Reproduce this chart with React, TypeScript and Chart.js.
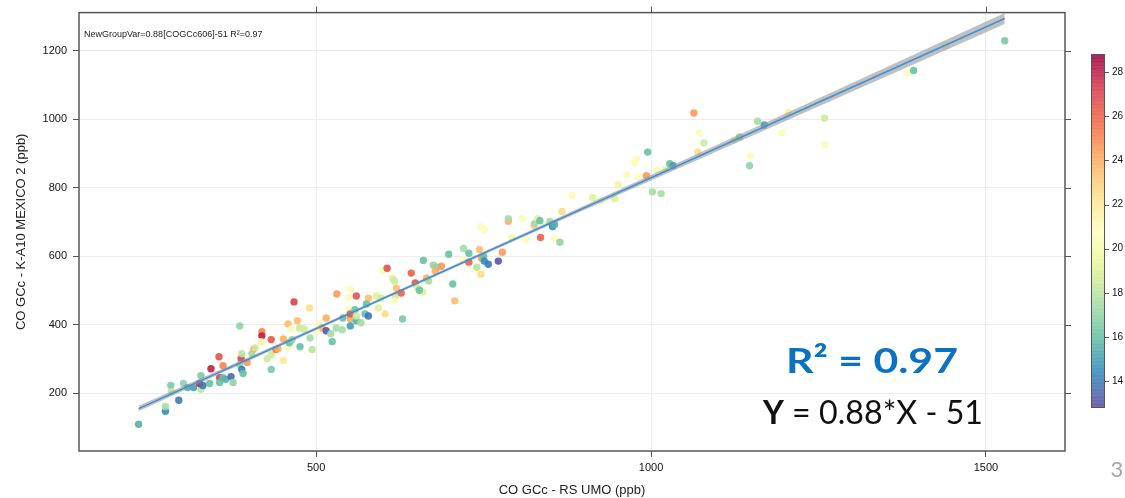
import { useEffect, useRef } from "react";
import { Chart, registerables } from "chart.js";

Chart.register(...registerables);

// CO (ppb) measured by the RS UMO reference analyser (x) and the K-A10 MEXICO 2 unit (y)
const rsUmo = [
  235, 275, 275, 295, 283, 284, 302, 308, 317, 328,
  326, 331, 328, 341, 343, 355, 361, 356, 356, 361,
  365, 373, 376, 386, 388, 389, 386, 389, 391, 397,
  404, 407, 409, 419, 419, 418, 433, 427, 433, 433,
  440, 443, 451, 458, 451, 460, 464, 467, 458, 463,
  472, 475, 482, 476, 491, 494, 490, 504, 515, 509,
  515, 500, 522, 524, 530, 539, 540, 549, 551, 551,
  558, 560, 551, 567, 560, 531, 548, 551, 560, 578,
  575, 573, 578, 593, 590, 597, 603, 599, 606, 614,
  617, 620, 618, 617, 627, 629, 642, 648, 651, 659,
  654, 665, 668, 660, 675, 681, 687, 678, 704, 707,
  698, 720, 728, 719, 728, 738, 740, 746, 744, 747,
  750, 751, 757, 772, 778, 746, 751, 787, 787, 792,
  808, 813, 825, 826, 831, 834, 835, 849, 853, 856,
  856, 864, 867, 882, 913, 925, 946, 951, 964, 981,
  993, 1002, 1015, 975, 1009, 1022, 1028, 1033, 1064, 1072,
  1079, 1070, 1124, 1132, 1159, 1169, 1148, 1147, 1195, 1205,
  1259, 1260, 1383, 1392, 1440, 1528, 995, 978,
];

const ka10Mexico = [
  110, 148, 162, 180, 223, 206, 229, 217, 217, 212,
  229, 223, 252, 229, 272, 307, 281, 246, 232, 246,
  241, 249, 232, 397, 301, 316, 284, 270, 258, 290,
  316, 330, 333, 380, 368, 351, 357, 301, 313, 270,
  328, 330, 359, 333, 296, 348, 357, 467, 403, 388,
  412, 391, 388, 336, 362, 328, 449, 403, 420, 391,
  383, 383, 374, 351, 391, 386, 420, 444, 417, 432,
  444, 412, 397, 406, 426, 490, 481, 504, 484, 478,
  461, 432, 426, 449, 484, 478, 432, 559, 565, 536,
  528, 507, 484, 470, 493, 417, 551, 522, 510, 496,
  501, 536, 528, 588, 574, 568, 571, 557, 519, 470,
  606, 623, 609, 591, 583, 565, 568, 548, 620, 594,
  600, 586, 577, 586, 612, 687, 678, 702, 710, 655,
  710, 649, 690, 696, 710, 704, 655, 702, 687, 693,
  652, 641, 731, 777, 771, 762, 768, 809, 838, 832,
  835, 788, 783, 873, 852, 855, 870, 864, 1018, 960,
  931, 904, 939, 948, 994, 983, 893, 864, 960, 1020,
  1003, 925, 1136, 1142, 1215, 1229, 904, 884,
];

// grouping variable used for the colour of each point
const groupVar = [
  15.5, 14.5, 17.5, 14, 16.5, 18, 17, 15.5, 15, 18,
  28, 14, 16.5, 16, 28, 26.5, 25, 27, 16, 16,
  15.5, 13.5, 17, 17, 27, 18, 17, 14, 16, 24.5,
  17.5, 24, 18.5, 25, 28, 21.5, 26.5, 18.5, 18.5, 16.5,
  25.5, 24, 24, 21, 22, 16, 17, 27, 23.5, 21,
  23.5, 18.5, 18.5, 16, 17.5, 18, 22.5, 21, 24, 24,
  13, 21, 17.5, 16, 17.5, 17.5, 16, 21, 24, 26.5,
  16, 15.5, 15, 17.5, 18.5, 24.5, 21, 20.5, 26.5, 23.5,
  16, 16, 14, 19, 19, 18.5, 22.5, 20.5, 26.5, 19,
  18.5, 23.5, 18.5, 21, 26, 16.5, 26, 26.5, 19, 19,
  16, 24, 17.5, 16, 17, 17, 24.5, 24, 16, 23.5,
  16, 17.5, 16, 21, 26, 21, 18, 22.5, 23.5, 24.5,
  16, 14.5, 14, 13, 24.5, 20.5, 20.5, 24, 17.5, 20,
  20.5, 20.5, 23, 17.5, 19, 16, 26, 17.5, 14.5, 15.5,
  21, 17, 22.5, 20.5, 19, 20, 19, 19.5, 20.5, 20.5,
  24.5, 17.5, 17.5, 20.5, 20.5, 19.5, 16, 15, 24.5, 20.5,
  18.5, 22.5, 19, 17, 17.5, 15, 20.5, 17, 20.5, 19.5,
  18.5, 20.5, 20.5, 16, 19.5, 16.5, 16, 20.5,
];

const xTicks = [500, 1000, 1500];
const yTicks = [200, 400, 600, 800, 1000, 1200];
const colorTicks = [14, 16, 18, 20, 22, 24, 26, 28];
const colorMin = 12.8;
const colorMax = 28.8;

// linear fit and its confidence band
const fitSlope = 0.88;
const fitIntercept = -51;
const fitFrom = 235;
const fitTo = 1528;
const bandX = [235, 400, 600, 800, 1000, 1200, 1400, 1528];
const bandHalf = [8, 5, 4, 5, 8, 11, 14, 16];

const spectral = [
  "#5E4FA2", "#3288BD", "#66C2A5", "#ABDDA4", "#E6F598", "#FFFFBF",
  "#FEE08B", "#FDAE61", "#F46D43", "#D53E4F", "#9E0142",
];

const AXIS_FONT = '"Liberation Sans", Arial, Helvetica, sans-serif';
const SLIDE_FONT = 'Lato, "Open Sans", sans-serif';

function hexRgb(h: string): number[] {
  const n = parseInt(h.slice(1), 16);
  return [(n >> 16) & 255, (n >> 8) & 255, n & 255];
}

function colorFor(v: number, alpha: number): string {
  const t = Math.min(Math.max((v - colorMin) / (colorMax - colorMin), 0), 1) * (spectral.length - 1);
  const i = Math.min(Math.floor(t), spectral.length - 2);
  const f = t - i;
  const a = hexRgb(spectral[i]);
  const b = hexRgb(spectral[i + 1]);
  const c = a.map((av, k) => Math.round(av + (b[k] - av) * f));
  return `rgba(${c[0]},${c[1]},${c[2]},${alpha})`;
}

const fitY = (x: number) => fitSlope * x + fitIntercept;

type Part = { text: string; font: string; color: string };

function drawStretched(ctx: CanvasRenderingContext2D, parts: Part[], left: number, baseline: number, width: number) {
  const widths = parts.map((p) => {
    ctx.font = p.font;
    return ctx.measureText(p.text).width;
  });
  const total = widths.reduce((s, w) => s + w, 0);
  ctx.save();
  ctx.translate(left, baseline);
  ctx.scale(width / total, 1);
  ctx.textBaseline = "alphabetic";
  ctx.textAlign = "left";
  let cx = 0;
  parts.forEach((p, i) => {
    ctx.font = p.font;
    ctx.fillStyle = p.color;
    ctx.fillText(p.text, cx, 0);
    cx += widths[i];
  });
  ctx.restore();
}

const framePlugin = {
  id: "frameAndLegend",
  afterDraw(chart: any) {
    const { ctx, chartArea: a, scales } = chart;
    const xs = scales.x;
    const ys = scales.y;
    ctx.save();

    // outer box with ticks on the top and right sides
    ctx.strokeStyle = "#555";
    ctx.lineWidth = 1.5;
    ctx.strokeRect(a.left, a.top, a.right - a.left, a.bottom - a.top);
    ctx.lineWidth = 1;
    ctx.beginPath();
    xTicks.forEach((v) => {
      const px = Math.round(xs.getPixelForValue(v)) + 0.5;
      ctx.moveTo(px, a.top);
      ctx.lineTo(px, a.top - 6);
    });
    yTicks.forEach((v) => {
      const py = Math.round(ys.getPixelForValue(v)) + 0.5;
      ctx.moveTo(a.right, py);
      ctx.lineTo(a.right + 6, py);
    });
    ctx.stroke();

    // fit equation in the panel corner
    ctx.font = `9px ${AXIS_FONT}`;
    ctx.fillStyle = "#222";
    ctx.textBaseline = "middle";
    ctx.textAlign = "left";
    ctx.fillText("NewGroupVar=0.88[COGCc606]-51 R\u00B2=0.97", a.left + 5, a.top + 22);

    // colour key
    const cbLeft = 1091;
    const cbWidth = 13;
    const cbTop = 54.5;
    const cbBottom = 407.5;
    const vy = (v: number) => cbTop + ((colorMax - v) / (colorMax - colorMin)) * (cbBottom - cbTop);
    const steps = 100;
    for (let s = 0; s < steps; s++) {
      const v0 = colorMax - (s / steps) * (colorMax - colorMin);
      const v1 = colorMax - ((s + 1) / steps) * (colorMax - colorMin);
      ctx.fillStyle = colorFor((v0 + v1) / 2, 0.85);
      ctx.fillRect(cbLeft, vy(v0), cbWidth, vy(v1) - vy(v0) + 0.5);
    }
    ctx.strokeStyle = "#555";
    ctx.lineWidth = 1;
    ctx.strokeRect(cbLeft + 0.5, cbTop, cbWidth, cbBottom - cbTop);
    ctx.beginPath();
    colorTicks.forEach((v) => {
      const py = Math.round(vy(v)) + 0.5;
      ctx.moveTo(cbLeft + cbWidth, py);
      ctx.lineTo(cbLeft + cbWidth + 5, py);
    });
    ctx.stroke();
    ctx.font = `10px ${AXIS_FONT}`;
    ctx.fillStyle = "#111";
    ctx.textBaseline = "middle";
    colorTicks.forEach((v) => ctx.fillText(String(v), cbLeft + cbWidth + 8, vy(v)));

    // headline statistics
    drawStretched(ctx, [{ text: "R\u00B2 = 0.97", font: `bold 35px ${SLIDE_FONT}`, color: "#0B72C2" }], 786, 373, 172);
    drawStretched(
      ctx,
      [
        { text: "Y", font: `bold 33px ${SLIDE_FONT}`, color: "#111" },
        { text: " = 0.88*X - 51", font: `33px ${SLIDE_FONT}`, color: "#111" },
      ],
      763,
      424,
      220
    );

    // page number
    ctx.font = `22px ${SLIDE_FONT}`;
    ctx.fillStyle = "#A6A6A6";
    ctx.textAlign = "center";
    ctx.textBaseline = "middle";
    ctx.fillText("3", 1117, 470);

    ctx.restore();
  },
};

export default function App() {
  const ref = useRef<HTMLCanvasElement>(null);

  useEffect(() => {
    const canvas = ref.current;
    if (!canvas) return;

    const points = rsUmo.map((x, i) => ({ x, y: ka10Mexico[i] }));
    const upper = bandX.map((x, i) => ({ x, y: fitY(x) + bandHalf[i] }));
    const lower = bandX.map((x, i) => ({ x, y: fitY(x) - bandHalf[i] }));
    const fitLine = [fitFrom, fitTo].map((x) => ({ x, y: fitY(x) }));

    const chart = new Chart(canvas, {
      type: "scatter",
      data: {
        datasets: [
          {
            type: "line",
            data: fitLine,
            borderColor: "#3D8FDD",
            borderWidth: 1.5,
            pointRadius: 0,
            fill: false,
            order: 1,
          } as any,
          {
            type: "line",
            data: upper,
            borderWidth: 0,
            borderColor: "rgba(0,0,0,0)",
            pointRadius: 0,
            fill: "+1",
            backgroundColor: "rgba(150,150,150,0.6)",
            order: 2,
          } as any,
          {
            type: "line",
            data: lower,
            borderWidth: 0,
            borderColor: "rgba(0,0,0,0)",
            pointRadius: 0,
            fill: false,
            order: 2,
          } as any,
          {
            data: points,
            backgroundColor: groupVar.map((v) => colorFor(v, 0.9)),
            borderWidth: 0,
            pointRadius: 3.7,
            pointHoverRadius: 3.7,
            order: 3,
          },
        ],
      },
      options: {
        animation: false,
        responsive: false,
        devicePixelRatio: 1,
        layout: { padding: { left: 0, right: 60, top: 11, bottom: 0 } },
        plugins: { legend: { display: false }, tooltip: { enabled: false } },
        scales: {
          x: {
            type: "linear",
            position: "bottom",
            min: 146,
            max: 1618,
            afterBuildTicks: (s: any) => {
              s.ticks = xTicks.map((value) => ({ value }));
            },
            afterFit: (s: any) => {
              s.height = 47;
            },
            ticks: {
              font: { size: 11, family: AXIS_FONT },
              color: "#111",
              padding: 4,
              maxRotation: 0,
              callback: (v: any) => String(v),
            },
            grid: { color: "#ECECEC", lineWidth: 1, drawTicks: true, tickLength: 6, tickColor: "#555" },
            border: { display: false },
            title: {
              display: true,
              text: "CO GCc - RS UMO (ppb)",
              font: { size: 13, family: AXIS_FONT },
              color: "#222",
              padding: { top: 0, bottom: 0 },
            },
          },
          y: {
            type: "linear",
            min: 32,
            max: 1311,
            afterBuildTicks: (s: any) => {
              s.ticks = yTicks.map((value) => ({ value }));
            },
            afterFit: (s: any) => {
              s.width = 79;
            },
            ticks: {
              font: { size: 11, family: AXIS_FONT },
              color: "#111",
              padding: 6,
              callback: (v: any) => String(v),
            },
            grid: { color: "#ECECEC", lineWidth: 1, drawTicks: true, tickLength: 6, tickColor: "#555" },
            border: { display: false },
            title: {
              display: true,
              text: "CO GCc - K-A10 MEXICO 2 (ppb)",
              font: { size: 13, family: AXIS_FONT },
              color: "#222",
              padding: { top: 14, bottom: 0 },
            },
          },
        },
      },
      plugins: [framePlugin],
    });

    return () => chart.destroy();
  }, []);

  return (
    <div style={{ position: "fixed", left: 0, top: 0, width: 1125, height: 498, background: "#fff" }}>
      <canvas ref={ref} width={1125} height={498} style={{ display: "block", width: 1125, height: 498 }} />
    </div>
  );
}
